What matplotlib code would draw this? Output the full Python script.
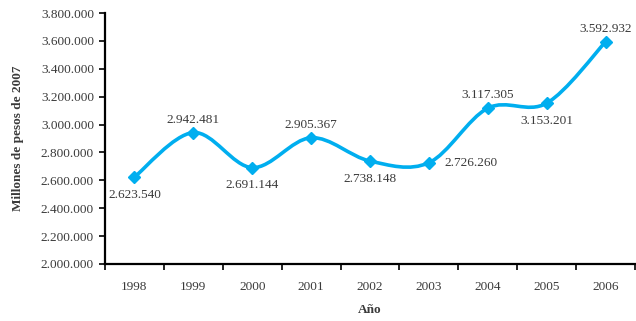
import matplotlib
matplotlib.use("Agg")
import matplotlib.pyplot as plt
from matplotlib.path import Path
from matplotlib.patches import PathPatch
import numpy as np

years = ["1998", "1999", "2000", "2001", "2002", "2003", "2004", "2005", "2006"]
values = [2623540, 2942481, 2691144, 2905367, 2738148, 2726260, 3117305, 3153201, 3592932]
label_pos = ["below", "above", "below", "above", "below", "right", "above", "below", "above"]
y_ticks = [2000000, 2200000, 2400000, 2600000, 2800000, 3000000, 3200000, 3400000, 3600000, 3800000]

LINE = "#00AEEF"
TEXT = "#3a3a3a"
plt.rcParams["font.family"] = ["Liberation Serif", "DejaVu Serif"]


def fmt(v):
    return f"{v:,}".replace(",", ".")


fig = plt.figure(figsize=(6.36, 3.21), dpi=100)
ax = fig.add_axes([105 / 636, 1 - 264 / 321, 530 / 636, 251 / 321])

x = np.arange(len(years), dtype=float)
y = np.array(values, dtype=float)

# smoothed line as cubic Bezier segments (Catmull-Rom style control points)
verts = [(x[0], y[0])]
codes = [Path.MOVETO]
n = len(x)
for i in range(n - 1):
    p0 = np.array([x[max(i - 1, 0)], y[max(i - 1, 0)]])
    p1 = np.array([x[i], y[i]])
    p2 = np.array([x[i + 1], y[i + 1]])
    p3 = np.array([x[min(i + 2, n - 1)], y[min(i + 2, n - 1)]])
    c1 = p1 + (p2 - p0) / 6.0
    c2 = p2 - (p3 - p1) / 6.0
    verts += [tuple(c1), tuple(c2), tuple(p2)]
    codes += [Path.CURVE4] * 3
ax.add_patch(PathPatch(Path(verts, codes), facecolor="none", edgecolor=LINE,
                       lw=2.6, capstyle="round", joinstyle="round", zorder=3))
ax.plot(x, y, linestyle="none", marker="D", markersize=6.5, color=LINE,
        markeredgecolor=LINE, zorder=4)

for xi, yi, pos in zip(x, y, label_pos):
    if pos == "above":
        ax.annotate(fmt(int(yi)), (xi, yi), xytext=(0, 5), textcoords="offset points",
                    ha="center", va="bottom", fontsize=9.5, color=TEXT)
    elif pos == "below":
        ax.annotate(fmt(int(yi)), (xi, yi), xytext=(0, -8.5), textcoords="offset points",
                    ha="center", va="top", fontsize=9.5, color=TEXT)
    else:
        ax.annotate(fmt(int(yi)), (xi, yi), xytext=(11, 0), textcoords="offset points",
                    ha="left", va="center", fontsize=9.5, color=TEXT)

ax.set_xlim(-0.5, len(years) - 0.5)
ax.set_ylim(y_ticks[0], y_ticks[-1])
ax.set_yticks(y_ticks)
ax.set_yticklabels([fmt(v) for v in y_ticks], fontsize=9.5, color=TEXT)

ax.set_xticks(np.arange(-0.5, len(years), 1.0))
ax.set_xticklabels([])
ax.set_xticks(x, minor=True)
ax.set_xticklabels(years, minor=True, fontsize=9.5, color=TEXT)
ax.tick_params(axis="x", which="major", direction="out", length=4, width=1.2)
ax.tick_params(axis="x", which="minor", length=0, pad=12)
ax.tick_params(axis="y", direction="out", length=4, width=1.2, pad=4)

for s in ["top", "right"]:
    ax.spines[s].set_visible(False)
for s in ["left", "bottom"]:
    ax.spines[s].set_linewidth(1.6)
    ax.spines[s].set_color("black")

ax.set_ylabel("Millones de pesos de 2007", fontsize=9.5, fontweight="bold", color=TEXT, labelpad=12)
ax.set_xlabel("Año", fontsize=9.5, fontweight="bold", color=TEXT, labelpad=8)

fig.savefig("out.png", dpi=100)
